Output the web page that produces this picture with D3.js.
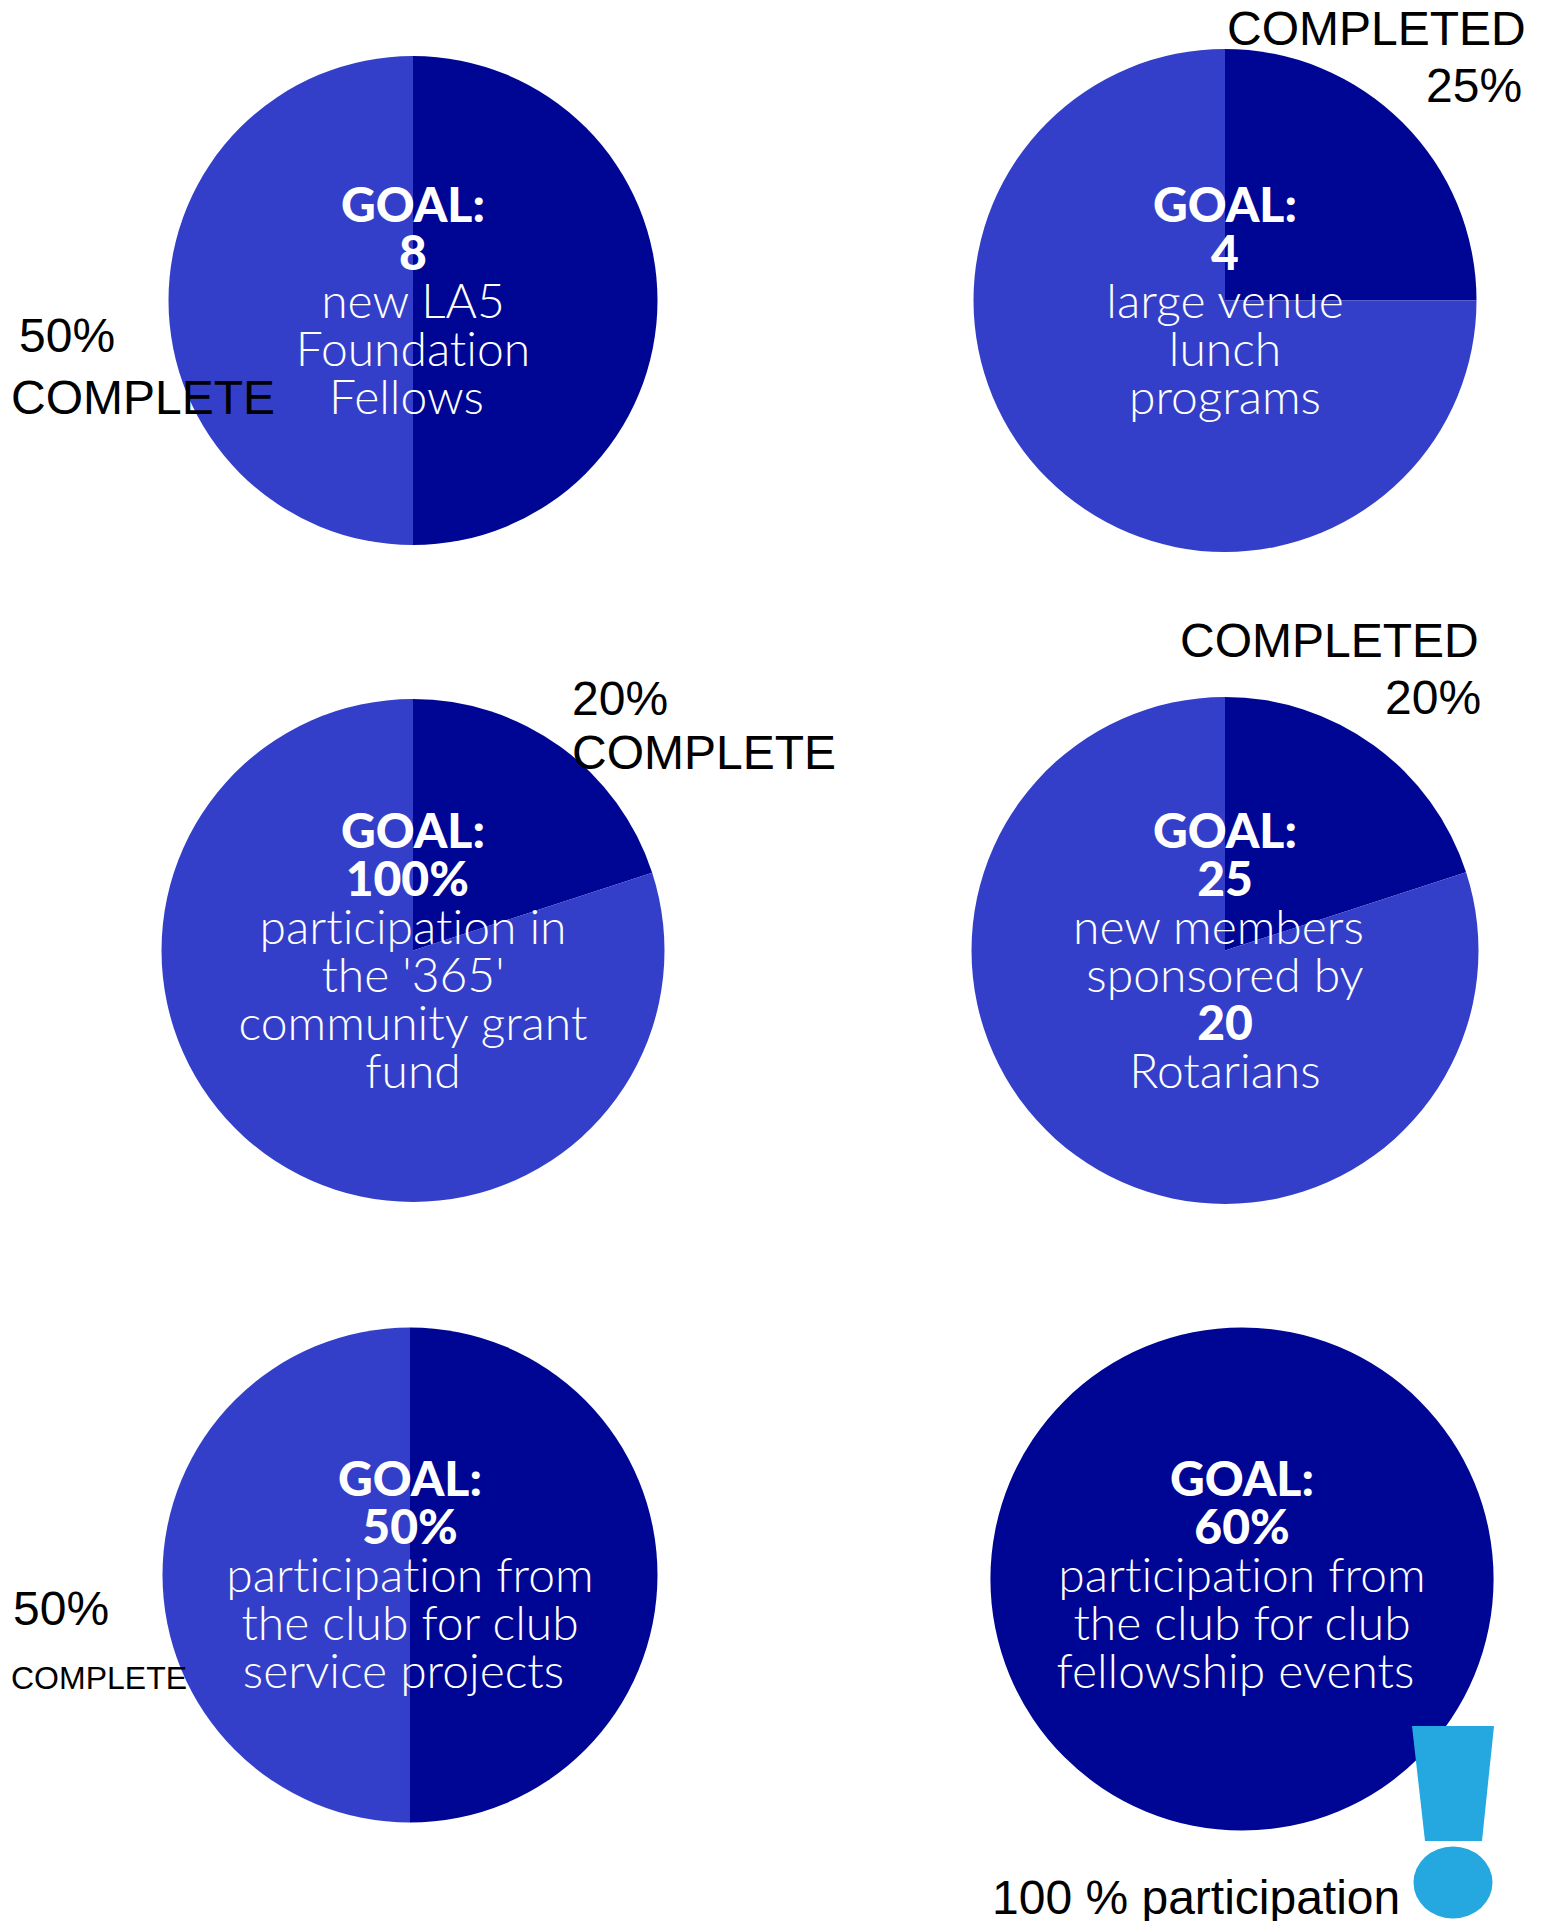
<!DOCTYPE html>
<html>
<head>
<meta charset="utf-8">
<script src="https://cdn.jsdelivr.net/npm/d3@7"></script>
<style>
body{margin:0;background:#fff}
text{text-anchor:middle;font-variant-ligatures:none}
.goal{font-family:Lato,sans-serif;font-weight:900;font-size:48px;fill:#fff}
.line{font-family:Lato,sans-serif;font-weight:300;font-size:48px;fill:#fff}
.note{font-family:"Liberation Sans",Arial,sans-serif;fill:#000;text-anchor:start}
</style>
</head>
<body>
<script>
// values
const categories=["LA5 Fellows","Lunch programs","365 fund","New members","Service projects","Fellowship events"];
const completed=[50,25,20,20,50,100];
const remaining=[50,75,80,80,50,0];

// nbsp at the end of a line = the off-centre lines of the original
const goalText=[
  [["GOAL:",1],["8",1],["new LA5",0],["Foundation",0],["Fellows\u00a0",0]],
  [["GOAL:",1],["4",1],["large venue",0],["lunch",0],["programs",0]],
  [["GOAL:",1],["100%\u00a0",1],["participation in",0],["the '365'",0],["community grant",0],["fund",0]],
  [["GOAL:",1],["25",1],["new members\u00a0",0],["sponsored by",0],["20",1],["Rotarians",0]],
  [["GOAL:",1],["50%",1],["participation from",0],["the club for club",0],["service projects\u00a0",0]],
  [["GOAL:",1],["60%",1],["participation from",0],["the club for club",0],["fellowship events\u00a0",0]]
];

const noteText=[
  ["50%","COMPLETE"],
  ["COMPLETED","25%"],
  ["20%","COMPLETE"],
  ["COMPLETED","20%"],
  ["50%","COMPLETE"],
  ["100 % participation"]
];

const W=1542,H=1921;
// pie layout
const pieBox=[
  {cx:413,cy:300.5,r:244.5},
  {cx:1225,cy:300.5,r:251.5},
  {cx:413,cy:950.5,r:251.5},
  {cx:1225,cy:950.5,r:253.5},
  {cx:410,cy:1575,r:247.5},
  {cx:1242,cy:1579,r:251.5}
];
const textTop=[222,222,847.5,847.5,1496,1496];
const lineStep=48;
const noteBox=[
  [[19,352,48],[11,414,48]],
  [[1227,45,48],[1426,102,48]],
  [[572,715,48],[572,769,48]],
  [[1180,657,48],[1385,714,48]],
  [[13,1625,48],[11,1689,32]],
  [[992,1914,48]]
];

const color=d3.scaleOrdinal().domain(["completed","remaining"]).range(["#000694","#343fc9"]);
const svg=d3.select("body").append("svg").attr("width",W).attr("height",H);
const pie=d3.pie().sort(null).value(d=>d.value);
const arc=d3.arc().innerRadius(0);

categories.forEach((c,i)=>{
  const g=svg.append("g").attr("class","chart").attr("transform",`translate(${pieBox[i].cx},${pieBox[i].cy})`);
  const rows=[{key:"completed",value:completed[i]},{key:"remaining",value:remaining[i]}];
  g.selectAll("path").data(pie(rows)).enter().append("path")
    .attr("d",arc.outerRadius(pieBox[i].r))
    .attr("fill",d=>color(d.data.key));
});

// texts go on top of all the pies
categories.forEach((c,i)=>{
  svg.append("g").selectAll("text").data(goalText[i]).enter().append("text")
    .attr("class",d=>d[1]?"goal":"line")
    .attr("x",pieBox[i].cx)
    .attr("y",(d,j)=>textTop[i]+j*lineStep)
    .text(d=>d[0]);
  svg.append("g").selectAll("text").data(noteText[i]).enter().append("text")
    .attr("class","note")
    .attr("x",(d,j)=>noteBox[i][j][0])
    .attr("y",(d,j)=>noteBox[i][j][1])
    .style("font-size",(d,j)=>noteBox[i][j][2]+"px")
    .text(d=>d);
});

// exclamation mark in the corner
const mark=svg.append("g").attr("fill","#25a8e0");
mark.append("path").attr("d","M1412,1726L1494,1726L1482,1841L1425,1841Z");
mark.append("ellipse").attr("cx",1453).attr("cy",1882.5).attr("rx",39.5).attr("ry",36);
</script>
</body>
</html>
